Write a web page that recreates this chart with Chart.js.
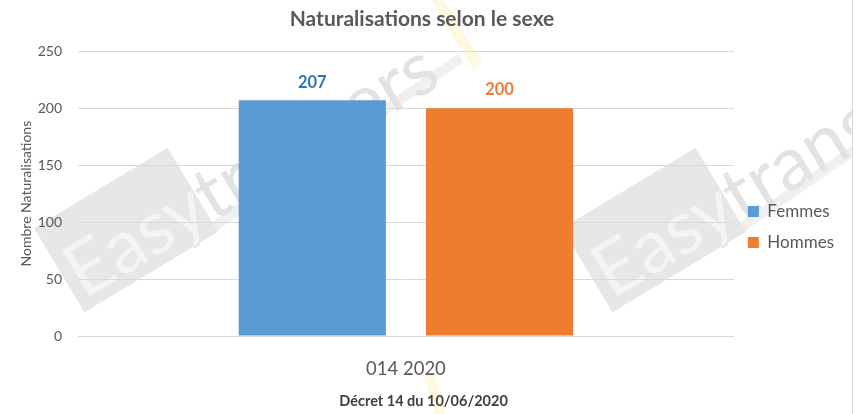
<!DOCTYPE html>
<html>
<head>
<meta charset="utf-8">
<script src="https://cdn.jsdelivr.net/npm/chart.js@4.4.1/dist/chart.umd.min.js"></script>
<style>
    html, body { margin: 0; padding: 0; background: #fff; }
    #wrap { width: 859px; height: 414px; position: relative; }
</style>
</head>
<body>
<div id="wrap"><canvas id="barChart" width="859" height="414"></canvas></div>
<script>
// data
const categories = ['014 2020'];
const seriesNames = ['Femmes', 'Hommes'];
const femmes = [207];
const hommes = [200];
const yTicks = [0, 50, 100, 150, 200, 250];

const FONT = 'Lato';
const GREY = '#595959';

// watermark "Easytrangers" (grey box, text, swoosh)
function drawLogo(ctx, cx, cy) {
    ctx.save();
    ctx.translate(cx, cy);
    ctx.rotate(-31 * Math.PI / 180);
    ctx.fillStyle = '#f0f0f0';
    ctx.beginPath();
    ctx.moveTo(70, 38);
    ctx.lineTo(376, 20);
    ctx.lineTo(376, 30);
    ctx.lineTo(70, 48);
    ctx.closePath();
    ctx.fill();
    ctx.fillStyle = '#e7e7e7';
    ctx.fillRect(-78, -49, 156, 98);
    let size = 72;
    ctx.font = size + 'px ' + FONT;
    const w = ctx.measureText('Easytrangers').width;
    size = size * 420 / w;
    ctx.font = size + 'px ' + FONT;
    ctx.fillStyle = '#e3e3e3';
    ctx.fillText('Easytrangers', -72, 38);
    ctx.beginPath();
    ctx.rect(-78, -49, 156, 98);
    ctx.clip();
    ctx.fillStyle = '#f4f4f4';
    ctx.fillText('Easytrangers', -72, 38);
    ctx.restore();
}

const watermark = {
    id: 'watermark',
    beforeDraw(chart) {
        const ctx = chart.ctx;
        ctx.save();
        ctx.beginPath();
        ctx.rect(0, 0, 852, 414);
        ctx.clip();
        drawLogo(ctx, 126, 230);
        drawLogo(ctx, 654, 230);
        ctx.strokeStyle = 'rgba(255, 232, 140, 0.25)';
        ctx.lineWidth = 11;
        ctx.beginPath();
        ctx.moveTo(436, -2);
        ctx.lineTo(478, 66);
        ctx.stroke();
        ctx.beginPath();
        ctx.moveTo(428, 372);
        ctx.lineTo(441, 416);
        ctx.stroke();
        ctx.restore();
        // right border
        ctx.save();
        ctx.strokeStyle = '#d9d9d9';
        ctx.lineWidth = 1;
        ctx.beginPath();
        ctx.moveTo(852.5, 0);
        ctx.lineTo(852.5, 414);
        ctx.stroke();
        ctx.restore();
    }
};

const valueLabels = {
    id: 'valueLabels',
    afterDatasetsDraw(chart) {
        const ctx = chart.ctx;
        ctx.save();
        ctx.font = 'bold 16.5px ' + FONT;
        ctx.textAlign = 'center';
        ctx.textBaseline = 'middle';
        chart.data.datasets.forEach((ds, i) => {
            chart.getDatasetMeta(i).data.forEach((bar, j) => {
                ctx.fillStyle = ds.labelColor;
                ctx.fillText(ds.data[j], bar.x, bar.y - 18);
            });
        });
        ctx.restore();
    }
};

new Chart(document.getElementById('barChart'), {
    type: 'bar',
    data: {
        labels: categories,
        datasets: [
            {label: seriesNames[0], data: femmes, backgroundColor: '#5b9bd5', labelColor: '#2e75b6'},
            {label: seriesNames[1], data: hommes, backgroundColor: '#ed7d31', labelColor: '#ed7d31'}
        ]
    },
    options: {
        responsive: false,
        animation: false,
        categoryPercentage: 0.571,
        barPercentage: 0.786,
        layout: {padding: {left: 0, right: 15, top: 0, bottom: 0}},
        plugins: {
            title: {
                display: true,
                text: 'Naturalisations selon le sexe',
                color: GREY,
                font: {family: FONT, size: 21, weight: 'bold'},
                padding: {top: 7, bottom: 19}
            },
            legend: {
                position: 'right',
                title: {display: true, text: ' ', font: {size: 10}, padding: {top: 0, bottom: 28}},
                labels: {
                    boxWidth: 11, boxHeight: 11, padding: 14,
                    color: GREY,
                    font: {family: FONT, size: 17}
                }
            },
            tooltip: {enabled: false}
        },
        scales: {
            x: {
                grid: {display: false},
                border: {color: '#d9d9d9'},
                ticks: {color: GREY, font: {family: FONT, size: 18.5}, padding: 14},
                title: {
                    display: true,
                    // leading spaces push the centred title right, as in the picture
                    text: ' '.repeat(10) + 'Décret 14 du 10/06/2020',
                    color: '#404040',
                    font: {family: FONT, size: 14.5, weight: 'bold'},
                    padding: {top: 0, bottom: 4}
                },
                afterFit: (s) => { s.height = 78; }
            },
            y: {
                min: yTicks[0],
                max: yTicks[yTicks.length - 1],
                grid: {color: '#d9d9d9', drawTicks: false},
                border: {display: false},
                ticks: {stepSize: yTicks[1] - yTicks[0], color: GREY, font: {family: FONT, size: 14}, padding: 16},
                title: {
                    display: true,
                    text: 'Nombre Naturalisations',
                    color: GREY,
                    font: {family: FONT, size: 14},
                    padding: {top: 18, bottom: 0}
                },
                afterFit: (s) => { s.width = 78; }
            }
        }
    },
    plugins: [watermark, valueLabels]
});
</script>
</body>
</html>
